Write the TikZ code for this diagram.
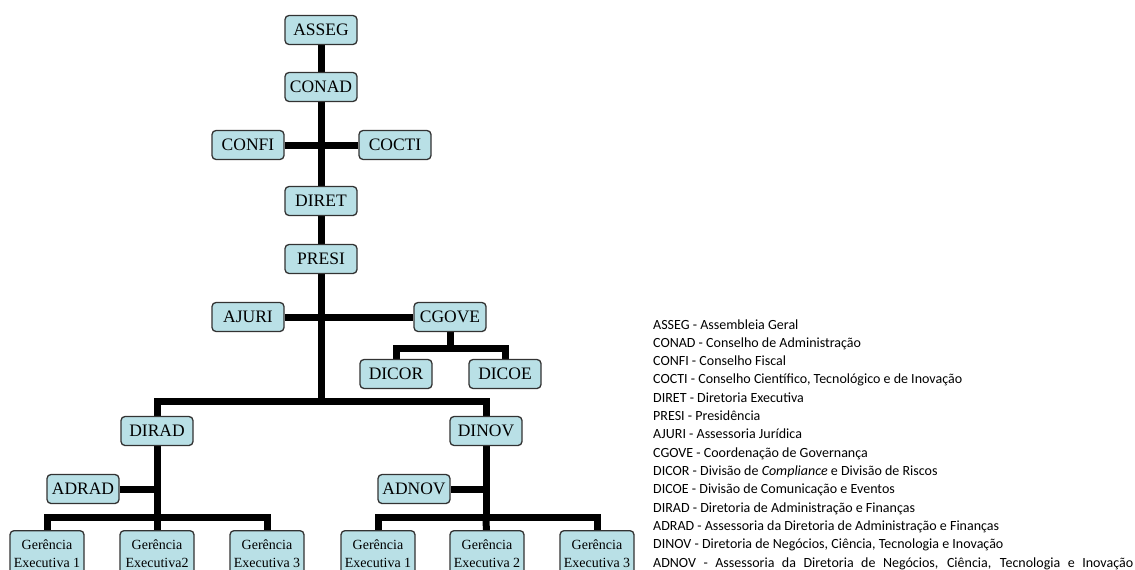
\documentclass[tikz,border=0pt]{standalone}
\usepackage{fontspec}
\setmainfont{Liberation Serif}
\newfontfamily\legendfont{Carlito}
\usetikzlibrary{backgrounds}
\definecolor{boxblue}{HTML}{B9E0E6}
\tikzset{
  orgbox/.style={draw=black!80, line width=1.3pt, rounded corners=4pt, fill=boxblue,
    minimum width=72pt, minimum height=29pt, inner sep=0pt,
    font=\fontsize{17.5}{19}\selectfont},
  gerbox/.style={orgbox, anchor=north, minimum width=74pt, minimum height=46pt,
    align=center, inner ysep=2.5pt, font=\fontsize{14}{17.5}\selectfont},
  link/.style={line width=7pt},
  legend/.style={anchor=base west, inner sep=0pt,
    font=\legendfont\fontsize{14}{18}\selectfont}
}
\begin{document}
\begin{tikzpicture}[x=1pt, y=-1pt]
\useasboundingbox (0,0) rectangle (1135,570);
\clip (0,0) rectangle (1135,570);

% Top of the chart
\node[orgbox] (asseg) at (321,30) {ASSEG};
\node[orgbox] (conad) at (321,87) {CONAD};
\node[orgbox] (confi) at (248,145) {CONFI};
\node[orgbox] (cocti) at (395,145) {COCTI};
\node[orgbox] (diret) at (321,201) {DIRET};
\node[orgbox] (presi) at (321,259) {PRESI};
\node[orgbox] (ajuri) at (248,317) {AJURI};
\node[orgbox] (cgove) at (450,317) {CGOVE};
\node[orgbox] (dicor) at (396,374) {DICOR};
\node[orgbox] (dicoe) at (505,374) {DICOE};
\coordinate (bus) at (321,401);
\coordinate (cgbus) at (450,348);

% Directorates
\node[orgbox] (dirad) at (157,431) {DIRAD};
\node[orgbox] (dinov) at (486,431) {DINOV};
\node[orgbox] (adrad) at (83,489) {ADRAD};
\node[orgbox] (adnov) at (414,489) {ADNOV};
\coordinate (radbus) at (157,517);
\coordinate (novbus) at (486,517);

% Executive managements
\node[gerbox] (gera) at (47,530) {Gerência\\Executiva 1};
\node[gerbox] (gerb) at (157,530) {Gerência\\Executiva2};
\node[gerbox] (gerc) at (267,530) {Gerência\\Executiva 3};
\node[gerbox] (gerd) at (378,530) {Gerência\\Executiva 1};
\node[gerbox] (gere) at (487,530) {Gerência\\Executiva 2};
\node[gerbox] (gerf) at (597,530) {Gerência\\Executiva 3};

% Connectors behind the boxes
\begin{pgfonlayer}{background}
\draw[link] (asseg) -- (bus);
\draw[link] (confi) -- (cocti);
\draw[link] (ajuri) -- (cgove);
\draw[link] (cgove) -- (cgbus);
\draw[link] (dicor) |- (cgbus) -| (dicoe);
\draw[link] (dirad) |- (bus) -| (dinov);
\draw[link] (dirad) -- (radbus);
\draw[link] (adrad) -- (adrad -| dirad);
\draw[link] (gera) |- (radbus) -| (gerc);
\draw[link] (gerb) -- (radbus);
\draw[link] (dinov) -- (novbus);
\draw[link] (adnov) -- (adnov -| dinov);
\draw[link] (gerd) |- (novbus) -| (gerf);
\draw[link] (gere) -- (novbus);
\end{pgfonlayer}

% Legend
\foreach \txt [count=\i from 0] in {
  {ASSEG - Assembleia Geral},
  {CONAD - Conselho de Administração},
  {CONFI - Conselho Fiscal},
  {COCTI - Conselho Científico, Tecnológico e de Inovação},
  {DIRET - Diretoria Executiva},
  {PRESI - Presidência},
  {AJURI - Assessoria Jurídica},
  {CGOVE - Coordenação de Governança},
  {DICOR - Divisão de \textit{Compliance} e Divisão de Riscos},
  {DICOE - Divisão de Comunicação e Eventos},
  {DIRAD - Diretoria de Administração e Finanças},
  {ADRAD - Assessoria da Diretoria de Administração e Finanças},
  {DINOV - Diretoria de Negócios, Ciência, Tecnologia e Inovação}}
  \node[legend] (leg\i) at (653,329+18.3*\i) {\txt};
\node[legend] (leglast) at (653,567)
  {\makebox[480pt][s]{ADNOV - Assessoria da Diretoria de Negócios, Ciência, Tecnologia e Inovação}};
\end{tikzpicture}
\end{document}
